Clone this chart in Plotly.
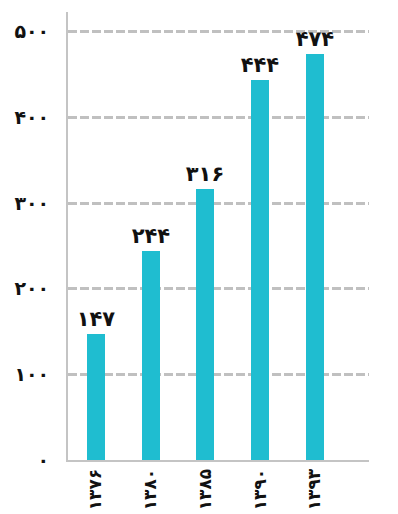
import plotly.graph_objects as go

# Census years (Persian digits) and values
years = ["۱۳۷۶", "۱۳۸۰", "۱۳۸۵", "۱۳۹۰", "۱۳۹۳"]
values = [147, 244, 316, 444, 474]
value_labels = ["۱۴۷", "۲۴۴", "۳۱۶", "۴۴۴", "۴۷۴"]
y_ticks = [0, 100, 200, 300, 400, 500]
y_tick_labels = ["۰", "۱۰۰", "۲۰۰", "۳۰۰", "۴۰۰", "۵۰۰"]

FONT = "DejaVu Sans"

fig = go.Figure(
    go.Bar(
        x=list(range(len(years))),
        y=values,
        width=0.33,
        marker=dict(color="#1fbdd0", line=dict(width=0)),
        text=value_labels,
        textposition="outside",
        constraintext="none",
        textfont=dict(family=FONT, size=21, color="#111111", weight="bold"),
        cliponaxis=False,
    )
)

fig.update_layout(
    width=398,
    height=514,
    margin=dict(l=68, r=29, t=12, b=54),
    paper_bgcolor="white",
    plot_bgcolor="white",
    showlegend=False,
    bargap=0,
)

fig.update_xaxes(
    range=[-0.51, 4.99],
    tickvals=list(range(len(years))),
    ticktext=years,
    tickangle=-90,
    tickfont=dict(family=FONT, size=17, color="#111111", weight="bold"),
    showgrid=False,
    showline=True,
    linecolor="#c4c4c4",
    linewidth=2,
    ticks="",
    zeroline=False,
    automargin=False,
)

fig.update_yaxes(
    range=[0, 523],
    tickvals=y_ticks,
    ticktext=y_tick_labels,
    tickfont=dict(family=FONT, size=19, color="#111111", weight="bold"),
    showgrid=True,
    gridcolor="#c0c0c0",
    gridwidth=2.5,
    griddash="9px,3px",
    showline=True,
    linecolor="#c4c4c4",
    linewidth=2,
    ticks="outside",
    ticklen=13,
    tickcolor="rgba(0,0,0,0)",
    zeroline=False,
    automargin=False,
)

fig.write_html("out.html")
